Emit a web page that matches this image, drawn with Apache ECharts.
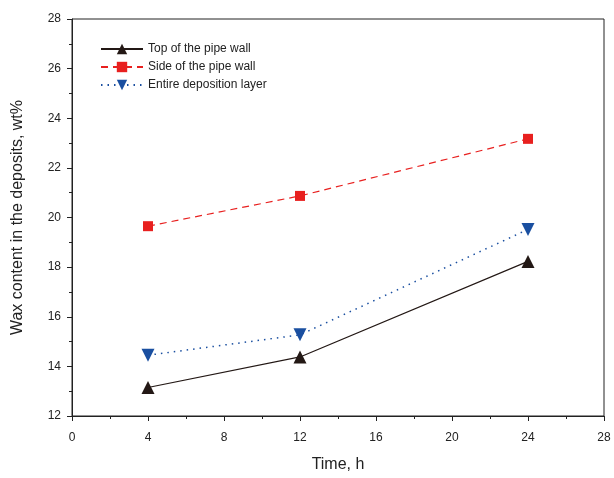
<!DOCTYPE html>
<html><head><meta charset="utf-8">
<script src="https://cdn.jsdelivr.net/npm/echarts@6/dist/echarts.min.js"></script>
<style>html,body{margin:0;padding:0;background:#fff}#c{width:614px;height:478px}</style>
</head><body><div id="c"></div>
<script>
const times = [4, 12, 24];
const topWall = [13.15, 14.38, 18.23];
const sideWall = [19.65, 20.87, 23.17];
const entireLayer = [14.45, 15.27, 19.52];
const seriesNames = ['Top of the pipe wall', 'Side of the pipe wall', 'Entire deposition layer'];

const font = 'Liberation Sans, Arial, sans-serif';
const chart = echarts.init(document.getElementById('c'), null, {renderer: 'canvas'});
const pair = (ys) => times.map((t, i) => [t, ys[i]]);
chart.setOption({
  animation: false,
  grid: {left: 72, right: 10, top: 19, bottom: 62, show: true, borderColor: '#222', borderWidth: 1,
         containLabel: false, outerBoundsMode: 'none'},
  legend: {
    left: 95, top: 38, orient: 'vertical', itemGap: 6, itemWidth: 42, itemHeight: 13,
    textStyle: {fontFamily: font, fontSize: 12, color: '#222'},
    data: seriesNames
  },
  xAxis: {
    type: 'value', min: 0, max: 28, interval: 4,
    name: 'Time, h', nameLocation: 'middle', nameGap: 41,
    nameTextStyle: {fontFamily: font, fontSize: 16, color: '#222'},
    axisLine: {lineStyle: {color: '#222'}},
    axisTick: {show: true, length: 5, lineStyle: {color: '#222'}},
    minorTick: {show: true, splitNumber: 2, length: 3, lineStyle: {color: '#222'}},
    splitLine: {show: false},
    axisLabel: {fontFamily: font, fontSize: 12, color: '#222', margin: 16}
  },
  yAxis: {
    type: 'value', min: 12, max: 28, interval: 2,
    name: 'Wax content in the deposits, wt%', nameLocation: 'middle', nameGap: 46,
    nameTextStyle: {fontFamily: font, fontSize: 16, color: '#222'},
    axisLine: {show: true, lineStyle: {color: '#222'}},
    axisTick: {show: true, length: 5, lineStyle: {color: '#222'}},
    minorTick: {show: true, splitNumber: 2, length: 3, lineStyle: {color: '#222'}},
    splitLine: {show: false},
    axisLabel: {fontFamily: font, fontSize: 12, color: '#222', margin: 11}
  },
  series: [
    {name: seriesNames[0], type: 'line', data: pair(topWall), symbol: 'triangle', symbolSize: 13,
     itemStyle: {color: '#231815'}, lineStyle: {color: '#231815', width: 1.2, type: 'solid'}},
    {name: seriesNames[1], type: 'line', data: pair(sideWall), symbol: 'rect', symbolSize: 10,
     itemStyle: {color: '#e8201f'}, lineStyle: {color: '#e8201f', width: 1.2, type: [7, 5]}},
    {name: seriesNames[2], type: 'line', data: pair(entireLayer), symbol: 'triangle', symbolRotate: 180, symbolSize: 13,
     itemStyle: {color: '#1a4fa0'}, lineStyle: {color: '#1a4fa0', width: 1.5, type: [1.5, 5]}}
  ]
});
</script></body></html>
